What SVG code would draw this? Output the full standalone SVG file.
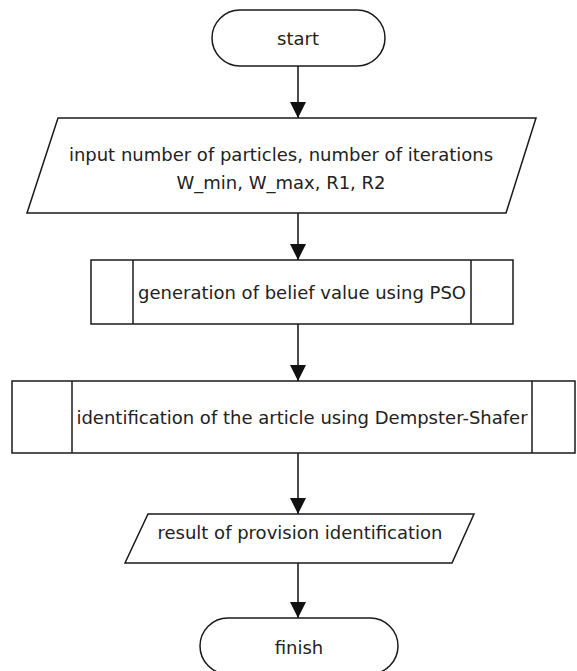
<svg xmlns="http://www.w3.org/2000/svg" width="577" height="671" viewBox="0 0 577 671">
<style>
.s{fill:#fff;stroke:#1a1a1a;stroke-width:1.5}
.t{font-family:"DejaVu Sans",sans-serif;font-size:18px;fill:#222;text-anchor:middle;dominant-baseline:central}
.c{stroke:#111;stroke-width:1.5;fill:none}
</style>
<defs>
<marker id="a" viewBox="0 0 16 16" refX="16" refY="8" markerWidth="16" markerHeight="16" markerUnits="userSpaceOnUse" orient="auto">
<path d="M0,0 L16,8 L0,16 Z" fill="#111"/>
</marker>
</defs>
<rect width="577" height="671" fill="#fff"/>
<g id="connectors">
<line class="c" x1="298" y1="66" x2="298" y2="118" marker-end="url(#a)"/>
<line class="c" x1="298" y1="213" x2="298" y2="260" marker-end="url(#a)"/>
<line class="c" x1="298" y1="324" x2="298" y2="381" marker-end="url(#a)"/>
<line class="c" x1="298" y1="453" x2="298" y2="514" marker-end="url(#a)"/>
<line class="c" x1="298" y1="563" x2="298" y2="618" marker-end="url(#a)"/>
</g>
<g id="start">
<rect class="s" x="212" y="10" width="173" height="56" rx="28"/>
<text class="t" x="298" y="38">start</text>
</g>
<g id="input">
<polygon class="s" points="58,118 536,118 506,213 27,213"/>
<text class="t" x="281" y="154">input number of particles, number of iterations</text>
<text class="t" x="281" y="182">W_min, W_max, R1, R2</text>
</g>
<g id="pso">
<rect class="s" x="91" y="260" width="422" height="64"/>
<line class="s" x1="133" y1="260" x2="133" y2="324"/>
<line class="s" x1="471" y1="260" x2="471" y2="324"/>
<text class="t" x="302" y="292">generation of belief value using PSO</text>
</g>
<g id="ds">
<rect class="s" x="12" y="381" width="563" height="72"/>
<line class="s" x1="72" y1="381" x2="72" y2="453"/>
<line class="s" x1="532" y1="381" x2="532" y2="453"/>
<text class="t" x="302" y="417">identification of the article using Dempster-Shafer</text>
</g>
<g id="result">
<polygon class="s" points="148,514 474,514 452,563 125,563"/>
<text class="t" x="300" y="532">result of provision identification</text>
</g>
<g id="finish">
<rect class="s" x="200" y="618" width="198" height="56" rx="28"/>
<text class="t" x="299" y="647">finish</text>
</g>
</svg>
